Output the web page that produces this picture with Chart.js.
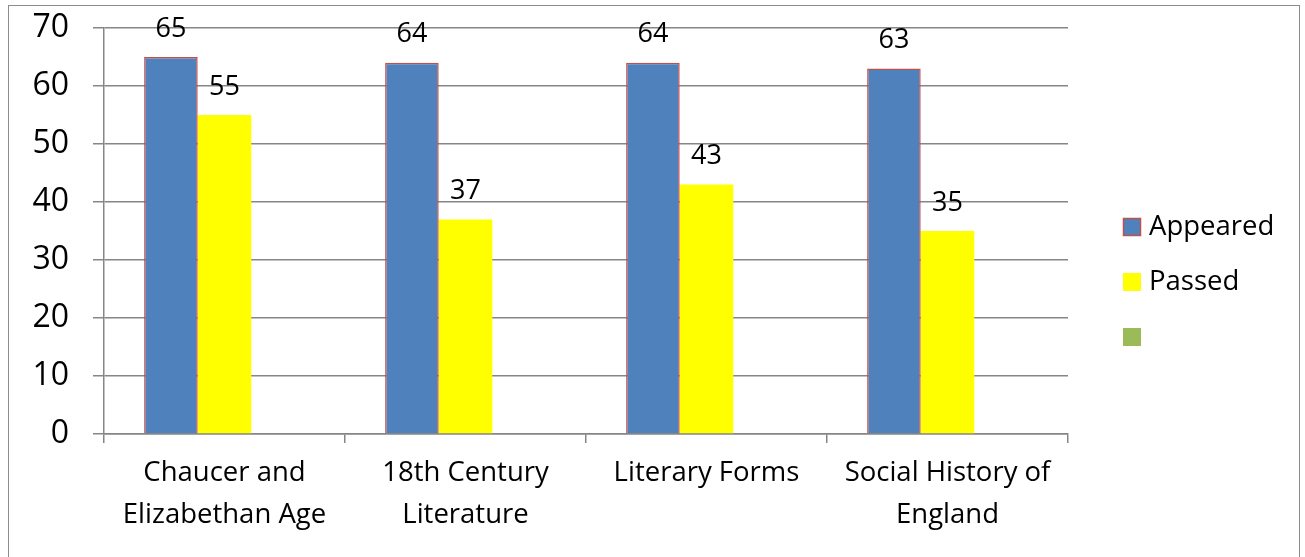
<!DOCTYPE html>
<html>
<head>
<meta charset="utf-8">
<script src="https://cdn.jsdelivr.net/npm/chart.js@4/dist/chart.umd.min.js"></script>
<style>
  html, body { margin: 0; padding: 0; background: #fff; }
  #wrap { position: relative; width: 1305px; height: 557px; overflow: hidden; }
  #frame { position: absolute; left: 8px; top: 5px; width: 1292px; height: 600px; border: 1.5px solid #8c8c8c; box-sizing: border-box; }
  canvas { position: absolute; left: 0; top: 0; }
</style>
</head>
<body>
<div id="wrap">
  <div id="frame"></div>
  <canvas id="chart" width="1305" height="557"></canvas>
</div>
<script>
// data
const categories = [
  ['Chaucer and', 'Elizabethan Age'],
  ['18th Century', 'Literature'],
  'Literary Forms',
  ['Social History of', 'England']
];
const appeared = [65, 64, 64, 63];
const passed = [55, 37, 43, 35];
const third = [null, null, null, null];
const yTicks = [0, 10, 20, 30, 40, 50, 60, 70];

const FONT = "'Open Sans', 'Noto Sans', sans-serif";

// labels above each bar
const valueLabels = {
  id: 'valueLabels',
  afterDatasetsDraw(chart) {
    const ctx = chart.ctx;
    ctx.save();
    ctx.font = '27px ' + FONT;
    ctx.fillStyle = '#000';
    ctx.textAlign = 'center';
    ctx.textBaseline = 'middle';
    chart.data.datasets.forEach((ds, i) => {
      chart.getDatasetMeta(i).data.forEach((bar, j) => {
        if (ds.data[j] == null) return;
        ctx.fillText(ds.data[j], bar.x, bar.y - 28);
      });
    });
    ctx.restore();
  }
};

// legend on the right
const sideLegend = {
  id: 'sideLegend',
  afterDraw(chart) {
    const ctx = chart.ctx;
    ctx.save();
    ctx.font = '27.5px ' + FONT;
    ctx.textBaseline = 'middle';
    ctx.fillStyle = '#000';
    chart.data.datasets.forEach((ds, i) => {
      const y = 227 + i * 55;
      ctx.fillStyle = ds.backgroundColor;
      ctx.fillRect(1123, y - 9, 18, 18);
      if (ds.legendBorder) {
        ctx.strokeStyle = ds.legendBorder;
        ctx.lineWidth = 1.5;
        ctx.strokeRect(1123.5, y - 8.5, 17, 17);
      }
      ctx.fillStyle = '#000';
      ctx.fillText(ds.label, 1149, y);
    });
    ctx.restore();
  }
};

new Chart(document.getElementById('chart'), {
  type: 'bar',
  data: {
    labels: categories,
    datasets: [
      { label: 'Appeared', data: appeared, backgroundColor: '#4F81BD', borderColor: '#C0504D', borderWidth: 1.5, legendBorder: '#C0504D' },
      { label: 'Passed', data: passed, backgroundColor: '#FFFF00', borderWidth: 0 },
      { label: '', data: third, backgroundColor: '#9BBB59', borderWidth: 0 }
    ]
  },
  options: {
    responsive: false,
    animation: false,
    events: [],
    layout: { padding: { top: 28, right: 237, left: 0, bottom: 0 } },
    datasets: { bar: { categoryPercentage: 0.667, barPercentage: 1.0 } },
    plugins: { legend: { display: false }, tooltip: { enabled: false } },
    scales: {
      x: {
        grid: { offset: true, drawOnChartArea: false, drawTicks: true, tickLength: 9, color: '#868686', lineWidth: 1.5 },
        border: { color: '#868686', width: 1.5 },
        ticks: { font: { family: FONT, size: 27.5, lineHeight: 1.53 }, color: '#000', padding: 9, maxRotation: 0 },
        afterFit: s => { s.height = 557 - 434; }
      },
      y: {
        min: 0, max: 70,
        afterBuildTicks: s => { s.ticks = yTicks.map(v => ({ value: v })); },
        grid: { color: '#868686', lineWidth: 1.5, tickLength: 11 },
        border: { color: '#868686', width: 1.5 },
        ticks: { font: { family: FONT, size: 32 }, color: '#000', padding: 24 },
        afterFit: s => { s.width = 104; s.paddingTop = 0; s.paddingBottom = 0; }
      }
    }
  },
  plugins: [valueLabels, sideLegend]
});
</script>
</body>
</html>
